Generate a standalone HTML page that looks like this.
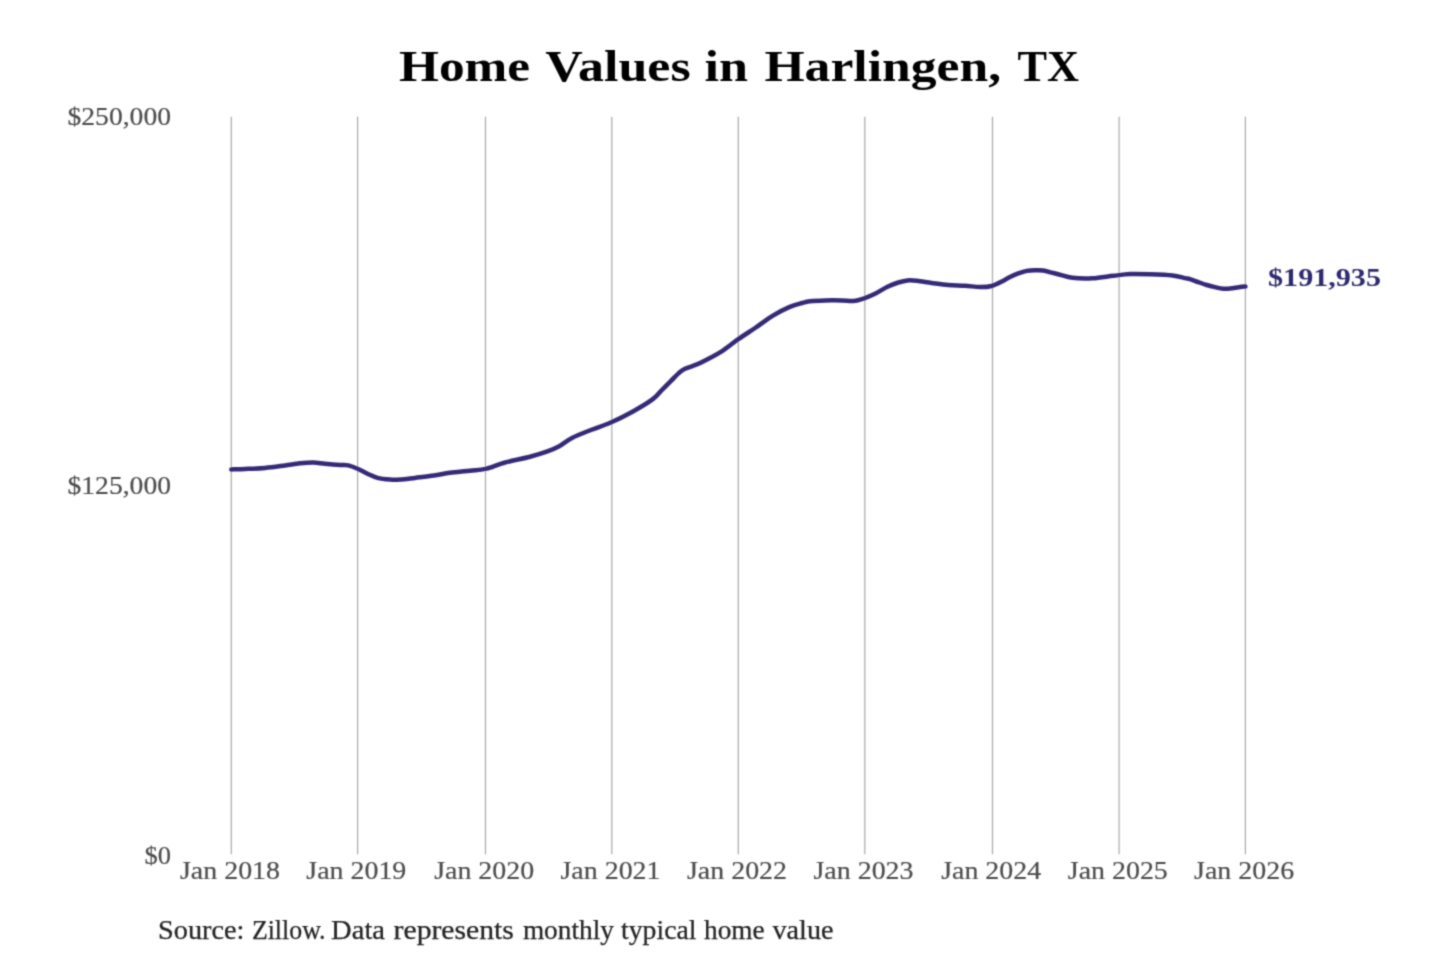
<!DOCTYPE html>
<html><head><meta charset="utf-8"><style>
html,body{margin:0;padding:0;background:#fff;width:1440px;height:960px;overflow:hidden}
svg{display:block}
text{font-family:"Liberation Serif",serif}
</style></head><body>
<svg width="1440" height="960" viewBox="0 0 1440 960">
<defs><filter id="bl" x="0" y="0" width="1440" height="960" filterUnits="userSpaceOnUse"><feConvolveMatrix order="3" kernelMatrix="0.03607 0.11778 0.03607 0.11778 0.38462 0.11778 0.03607 0.11778 0.03607" edgeMode="none"/></filter></defs>
<rect width="1440" height="960" fill="#fff"/>
<g filter="url(#bl)">
<g font-size="43.4" font-weight="bold" fill="#000">
<text x="399.00" y="81.00" textLength="131.10" lengthAdjust="spacingAndGlyphs">Home</text>
<text x="545.20" y="81.00" textLength="145.50" lengthAdjust="spacingAndGlyphs">Values</text>
<text x="704.40" y="81.00" textLength="43.50" lengthAdjust="spacingAndGlyphs">in</text>
<text x="764.40" y="81.00" textLength="236.80" lengthAdjust="spacingAndGlyphs">Harlingen,</text>
<text x="1017.40" y="81.00" textLength="61.50" lengthAdjust="spacingAndGlyphs">TX</text>
</g>
<g stroke="#a9a9a9" stroke-width="1.2">
<line x1="231.30" y1="116.7" x2="231.30" y2="854.2"/>
<line x1="357.60" y1="116.7" x2="357.60" y2="854.2"/>
<line x1="485.50" y1="116.7" x2="485.50" y2="854.2"/>
<line x1="611.80" y1="116.7" x2="611.80" y2="854.2"/>
<line x1="738.30" y1="116.7" x2="738.30" y2="854.2"/>
<line x1="864.80" y1="116.7" x2="864.80" y2="854.2"/>
<line x1="992.50" y1="116.7" x2="992.50" y2="854.2"/>
<line x1="1119.10" y1="116.7" x2="1119.10" y2="854.2"/>
<line x1="1245.40" y1="116.7" x2="1245.40" y2="854.2"/>
</g>
<g font-size="26.1" fill="#4d4d4d" stroke="#4d4d4d" stroke-width="0.2" text-anchor="end">
<text x="171" y="125" textLength="103.5" lengthAdjust="spacingAndGlyphs">$250,000</text>
<text x="171" y="494" textLength="103.5" lengthAdjust="spacingAndGlyphs">$125,000</text>
<text x="171" y="864" textLength="26.5" lengthAdjust="spacingAndGlyphs">$0</text>
</g>
<g font-size="26" fill="#4d4d4d" stroke="#4d4d4d" stroke-width="0.2" text-anchor="middle">
<text x="230.00" y="879.0" textLength="100.0" lengthAdjust="spacingAndGlyphs">Jan 2018</text>
<text x="356.30" y="879.0" textLength="100.0" lengthAdjust="spacingAndGlyphs">Jan 2019</text>
<text x="484.20" y="879.0" textLength="100.0" lengthAdjust="spacingAndGlyphs">Jan 2020</text>
<text x="610.50" y="879.0" textLength="100.0" lengthAdjust="spacingAndGlyphs">Jan 2021</text>
<text x="737.00" y="879.0" textLength="100.0" lengthAdjust="spacingAndGlyphs">Jan 2022</text>
<text x="863.50" y="879.0" textLength="100.0" lengthAdjust="spacingAndGlyphs">Jan 2023</text>
<text x="991.20" y="879.0" textLength="100.0" lengthAdjust="spacingAndGlyphs">Jan 2024</text>
<text x="1117.80" y="879.0" textLength="100.0" lengthAdjust="spacingAndGlyphs">Jan 2025</text>
<text x="1244.10" y="879.0" textLength="100.0" lengthAdjust="spacingAndGlyphs">Jan 2026</text>
</g>
<path d="M231.30,469.40 C233.58,469.33 239.38,469.25 245.00,469.00 C250.62,468.75 258.33,468.50 265.00,467.90 C271.67,467.30 279.17,466.17 285.00,465.40 C290.83,464.63 295.28,463.78 300.00,463.30 C304.72,462.82 309.13,462.43 313.30,462.50 C317.47,462.57 320.55,463.33 325.00,463.75 C329.45,464.17 336.12,464.73 340.00,465.00 C343.88,465.27 345.38,464.77 348.30,465.40 C351.22,466.02 354.30,467.36 357.50,468.75 C360.70,470.14 364.17,472.23 367.50,473.75 C370.83,475.27 373.75,476.92 377.50,477.90 C381.25,478.88 386.25,479.32 390.00,479.60 C393.75,479.88 395.83,479.88 400.00,479.60 C404.17,479.32 409.35,478.57 415.00,477.90 C420.65,477.23 428.43,476.42 433.90,475.60 C439.37,474.78 443.17,473.67 447.80,473.00 C452.43,472.33 457.07,472.05 461.70,471.60 C466.33,471.15 471.62,470.75 475.60,470.30 C479.58,469.85 482.83,469.45 485.60,468.90 C488.37,468.35 488.97,468.07 492.20,467.00 C495.43,465.93 498.70,464.22 505.00,462.50 C511.30,460.78 523.05,458.50 530.00,456.70 C536.95,454.90 541.83,453.44 546.70,451.70 C551.57,449.96 554.98,448.53 559.20,446.25 C563.42,443.97 566.73,440.71 572.00,438.00 C577.27,435.29 584.33,432.58 590.80,430.00 C597.27,427.42 603.85,425.55 610.80,422.50 C617.75,419.45 625.55,415.55 632.50,411.70 C639.45,407.85 647.60,403.02 652.50,399.40 C657.40,395.78 658.77,393.13 661.90,390.00 C665.02,386.87 668.44,383.42 671.25,380.60 C674.06,377.78 676.46,375.08 678.75,373.10 C681.04,371.12 682.08,370.15 685.00,368.75 C687.92,367.35 692.82,366.11 696.25,364.70 C699.68,363.29 701.23,362.62 705.60,360.30 C709.98,357.98 717.05,354.32 722.50,350.80 C727.95,347.28 732.75,343.08 738.30,339.20 C743.85,335.32 750.10,331.40 755.80,327.50 C761.50,323.60 766.93,319.20 772.50,315.80 C778.07,312.40 784.28,309.23 789.20,307.10 C794.12,304.97 798.53,303.98 802.00,303.00 C805.47,302.02 806.17,301.68 810.00,301.25 C813.83,300.82 819.72,300.54 825.00,300.40 C830.28,300.26 836.98,300.30 841.70,300.40 C846.42,300.50 849.55,301.35 853.30,301.00 C857.05,300.65 860.58,299.51 864.20,298.30 C867.82,297.09 871.12,295.68 875.00,293.75 C878.88,291.82 883.62,288.57 887.50,286.70 C891.38,284.82 894.97,283.55 898.30,282.50 C901.63,281.45 904.38,280.68 907.50,280.40 C910.62,280.12 912.97,280.38 917.00,280.80 C921.03,281.22 926.48,282.20 931.70,282.90 C936.92,283.60 942.75,284.53 948.30,285.00 C953.85,285.47 959.72,285.35 965.00,285.70 C970.28,286.05 975.55,287.05 980.00,287.10 C984.45,287.15 987.95,286.98 991.70,286.00 C995.45,285.02 999.45,282.77 1002.50,281.25 C1005.55,279.73 1007.37,278.21 1010.00,276.90 C1012.63,275.59 1015.52,274.40 1018.30,273.40 C1021.08,272.40 1023.92,271.43 1026.70,270.90 C1029.48,270.37 1032.23,270.28 1035.00,270.20 C1037.77,270.12 1040.52,270.00 1043.30,270.40 C1046.08,270.80 1048.92,271.88 1051.70,272.60 C1054.48,273.32 1056.53,273.83 1060.00,274.70 C1063.47,275.57 1067.08,277.20 1072.50,277.80 C1077.92,278.40 1085.70,278.63 1092.50,278.30 C1099.30,277.97 1107.05,276.52 1113.30,275.80 C1119.55,275.08 1123.88,274.27 1130.00,274.00 C1136.12,273.73 1142.92,273.97 1150.00,274.20 C1157.08,274.43 1166.67,274.75 1172.50,275.40 C1178.33,276.05 1182.08,277.47 1185.00,278.10 C1187.92,278.73 1187.78,278.53 1190.00,279.20 C1192.22,279.87 1195.52,281.13 1198.30,282.10 C1201.08,283.07 1203.92,284.17 1206.70,285.00 C1209.48,285.83 1212.23,286.48 1215.00,287.10 C1217.77,287.73 1220.52,288.55 1223.30,288.75 C1226.08,288.95 1228.92,288.57 1231.70,288.30 C1234.48,288.03 1237.72,287.40 1240.00,287.10 C1242.28,286.80 1244.50,286.60 1245.40,286.50" fill="none" stroke="#342b78" stroke-width="4.5" stroke-linejoin="round" stroke-linecap="round"/>
<text x="1268" y="286" font-size="25" font-weight="bold" fill="#2f2b6e" textLength="113" lengthAdjust="spacingAndGlyphs">$191,935</text>
<g font-size="26.3" fill="#252525" stroke="#252525" stroke-width="0.25">
<text x="158.10" y="939.00" textLength="86.40" lengthAdjust="spacingAndGlyphs">Source:</text>
<text x="251.90" y="939.00" textLength="73.70" lengthAdjust="spacingAndGlyphs">Zillow.</text>
<text x="331.10" y="939.00" textLength="53.90" lengthAdjust="spacingAndGlyphs">Data</text>
<text x="393.60" y="939.00" textLength="120.30" lengthAdjust="spacingAndGlyphs">represents</text>
<text x="522.90" y="939.00" textLength="91.00" lengthAdjust="spacingAndGlyphs">monthly</text>
<text x="621.10" y="939.00" textLength="75.30" lengthAdjust="spacingAndGlyphs">typical</text>
<text x="704.00" y="939.00" textLength="60.60" lengthAdjust="spacingAndGlyphs">home</text>
<text x="772.50" y="939.00" textLength="61.00" lengthAdjust="spacingAndGlyphs">value</text>
</g>
</g>
</svg>
</body></html>
